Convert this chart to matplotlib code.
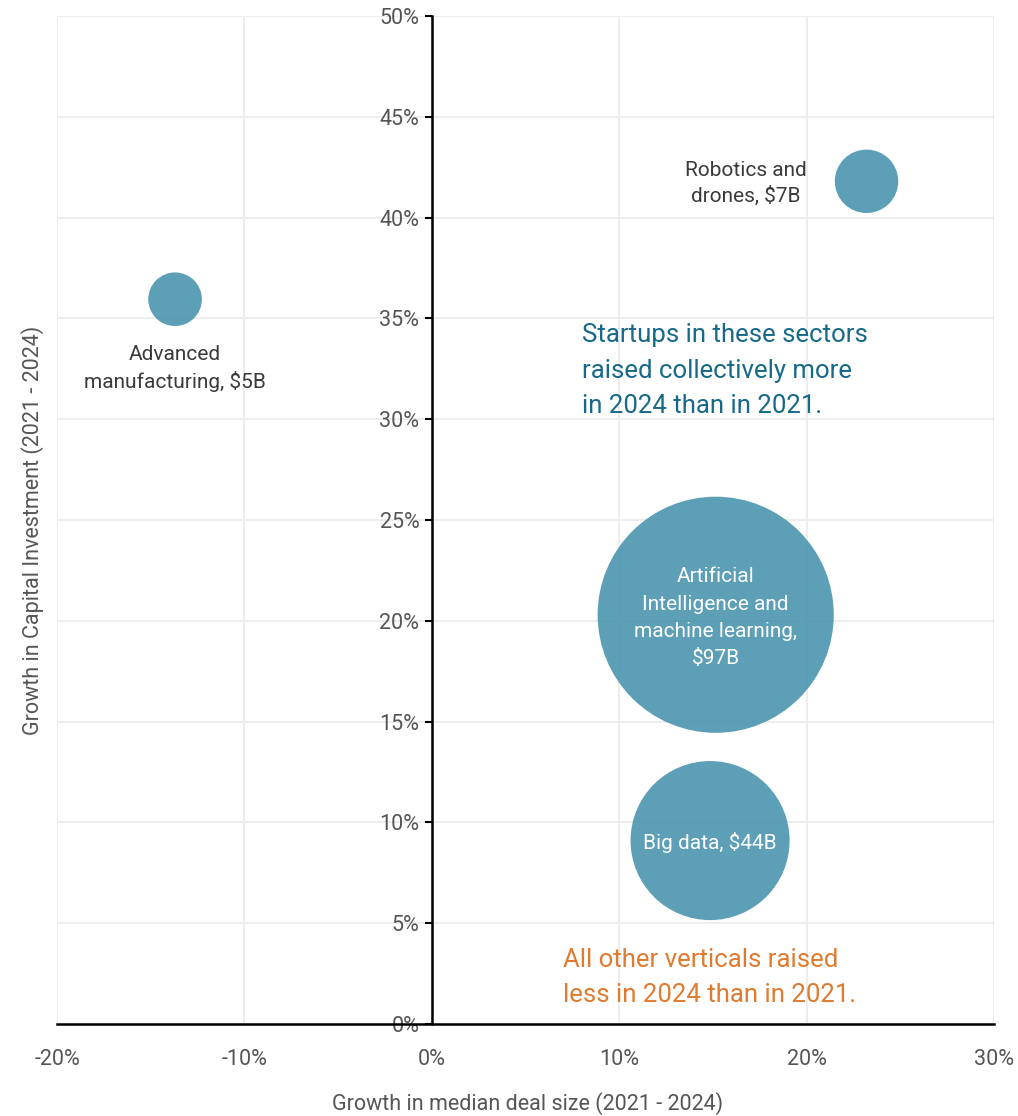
"""
Bubble chart: growth in median deal size vs growth in capital investment (2021 - 2024)
"""

import matplotlib
matplotlib.use("Agg")
import matplotlib.pyplot as plt
from matplotlib.ticker import FuncFormatter

plt.rcParams["font.family"] = ["Liberation Sans Narrow", "Roboto", "DejaVu Sans"]

# 数据
sectors = ["Advanced manufacturing", "Robotics and drones",
           "Artificial Intelligence and machine learning", "Big data"]
deal_growth = [-13.7, 23.2, 15.15, 14.85]      # x, %
invest_growth = [35.95, 41.8, 20.3, 9.1]       # y, %
raised_bn = [5, 7, 97, 44]                     # bubble size, $B

labels = ["Advanced\nmanufacturing, $5B", "Robotics and\ndrones, $7B",
          "Artificial\nIntelligence and\nmachine learning,\n$97B", "Big data, $44B"]
label_x = [-13.7, 16.75, 15.15, 14.85]
label_y = [32.5, 41.7, 20.15, 9.0]
label_inside = [False, False, True, True]
label_spacing = [1.4, 1.4, 1.55, 1.4]

x_ticks = [-20, -10, 0, 10, 20, 30]
y_ticks = [0, 5, 10, 15, 20, 25, 30, 35, 40, 45, 50]

BUBBLE = "#4f98b1"
GREY_TXT = "#555555"

fig = plt.figure(figsize=(10.18, 11.16), dpi=100)
ax = fig.add_axes([0.056, 0.0824, 0.9204, 0.9033])

# 面积与金额成正比
sizes = [v * 298 for v in raised_bn]
ax.scatter(deal_growth, invest_growth, s=sizes, color=BUBBLE, alpha=0.93,
           edgecolors="none", zorder=3)

for txt, lx, ly, inside, ls in zip(labels, label_x, label_y, label_inside, label_spacing):
    ax.text(lx, ly, txt, ha="center", va="center", fontsize=15,
            color="white" if inside else "#3a3a3a", linespacing=ls, zorder=4)

ax.text(8.0, 32.4, "Startups in these sectors\nraised collectively more\nin 2024 than in 2021.",
        ha="left", va="center", fontsize=18.5, color="#17698a", linespacing=1.6, zorder=4)
ax.text(7.0, 2.3, "All other verticals raised\nless in 2024 than in 2021.",
        ha="left", va="center", fontsize=18.5, color="#e07a2f", linespacing=1.6, zorder=4)

ax.set_xlim(-20, 30)
ax.set_ylim(0, 50)
ax.set_xticks(x_ticks)
ax.set_yticks(y_ticks)
pct = FuncFormatter(lambda v, _: f"{v:.0f}%")
ax.xaxis.set_major_formatter(pct)
ax.yaxis.set_major_formatter(pct)

ax.grid(True, color="#ececec", linewidth=1.3, zorder=0)
ax.set_axisbelow(True)

ax.spines["left"].set_position(("data", 0))
ax.spines["bottom"].set_position(("data", 0))
for side in ("left", "bottom"):
    ax.spines[side].set_color("black")
    ax.spines[side].set_linewidth(1.8)
    ax.spines[side].set_zorder(2)
for side in ("top", "right"):
    ax.spines[side].set_visible(False)

ax.tick_params(axis="x", length=0, pad=18, labelsize=15.5, labelcolor=GREY_TXT)
ax.tick_params(axis="y", length=5, width=1.5, color="black", pad=4,
               labelsize=15.5, labelcolor=GREY_TXT)

fig.text(0.518, 0.011, "Growth in median deal size (2021 - 2024)",
         ha="center", va="center", fontsize=15.5, color=GREY_TXT)
fig.text(0.032, 0.525, "Growth in Capital Investment (2021 - 2024)",
         ha="center", va="center", rotation=90, fontsize=15.5, color=GREY_TXT)

fig.savefig("out.png", dpi=100)
